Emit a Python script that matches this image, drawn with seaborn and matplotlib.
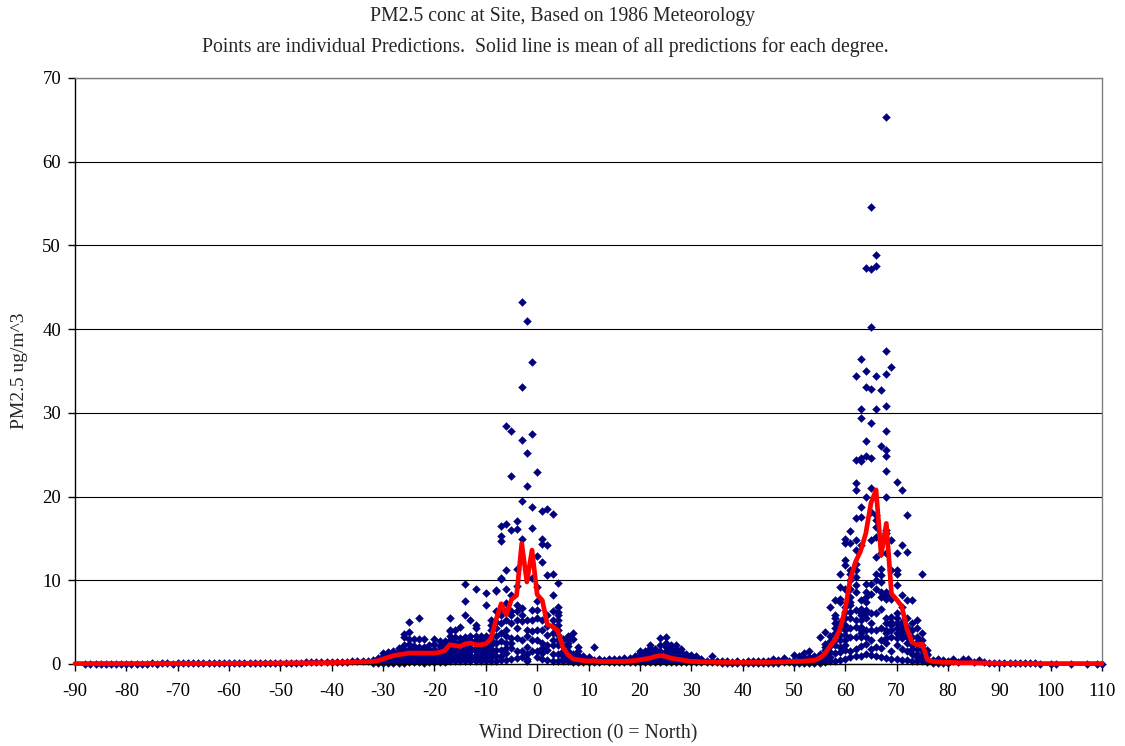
import matplotlib
matplotlib.use("Agg")
import matplotlib.pyplot as plt
import pandas as pd
import seaborn as sns

# Calm westerly directions, one prediction per degree starting at -88
west_calm_start = -88
west_calm = [
    0.04, 0.05, 0.05, 0.04, 0.05, 0.05, 0.04, 0.05,
    0.05, 0.04, 0.05, 0.05, 0.05, 0.06, 0.05, 0.06, 0.06, 0.05,
    0.06, 0.06, 0.07, 0.06, 0.07, 0.07, 0.08, 0.07, 0.08, 0.08,
    0.09, 0.08, 0.09, 0.10, 0.09, 0.10, 0.11, 0.12, 0.12, 0.13,
    0.14, 0.15, 0.15, 0.16, 0.17, 0.18, 0.18, 0.19, 0.20, 0.21,
    0.22, 0.24, 0.26, 0.28, 0.30, 0.33, 0.36, 0.40,
]

# Predictions around the north lobe, degrees -32 .. 12
west_lobe_start = -32
west_lobe = [
    [0.1, 0.3, 0.5],
    [0.1, 0.3, 0.5, 0.7],
    [0.1, 0.2, 0.4, 0.6, 0.8, 1.0, 1.3],
    [0.1, 0.3, 0.5, 0.7, 0.9, 1.2, 1.4],
    [0.1, 0.2, 0.4, 0.6, 0.8, 1.0, 1.3, 1.5],
    [0.1, 0.3, 0.5, 0.7, 0.9, 1.2, 1.6, 1.9],
    [0.1, 0.3, 0.5, 0.8, 1.0, 1.3, 1.7, 2.3, 3.2, 3.6],
    [0.2, 0.4, 0.6, 0.8, 1.1, 1.4, 1.8, 2.4, 3.0, 3.8, 5.0],
    [0.2, 0.4, 0.6, 0.9, 1.1, 1.4, 1.7, 2.2, 3.0],
    [0.2, 0.4, 0.7, 1.0, 1.3, 1.6, 2.0, 3.0, 5.5],
    [0.1, 0.3, 0.6, 0.9, 1.2, 1.5, 2.0, 3.0],
    [0.2, 0.4, 0.7, 1.0, 1.3, 1.7, 2.3],
    [0.2, 0.5, 0.8, 1.1, 1.4, 1.8, 2.4, 3.0],
    [0.2, 0.5, 0.8, 1.1, 1.4, 1.7, 2.2, 2.8],
    [0.2, 0.5, 0.8, 1.2, 1.5, 1.9, 2.4, 2.8],
    [0.3, 0.6, 1.0, 1.4, 1.8, 2.3, 2.9, 3.4, 3.9, 4.1, 5.5],
    [0.3, 0.6, 1.0, 1.4, 1.8, 2.2, 2.6, 3.2, 4.1],
    [0.3, 0.6, 0.9, 1.3, 1.7, 2.1, 2.6, 3.1, 4.4],
    [0.3, 0.6, 1.0, 1.4, 1.9, 2.5, 2.9, 3.2, 5.9, 7.5, 9.6],
    [0.3, 0.7, 1.1, 1.5, 1.9, 2.4, 2.9, 3.3, 5.3],
    [0.3, 0.7, 1.1, 1.5, 1.9, 2.5, 2.9, 3.3, 4.3, 4.7, 8.9],
    [0.3, 0.7, 1.1, 1.5, 1.9, 2.3, 2.5, 2.9, 3.4],
    [0.4, 0.8, 1.2, 1.6, 2.0, 2.4, 2.9, 3.3, 7.0, 8.5],
    [0.4, 0.8, 1.3, 1.8, 2.3, 2.9, 3.4, 4.1, 4.7, 5.3],
    [0.4, 0.9, 1.7, 2.5, 3.3, 4.3, 5.0, 6.3, 8.7, 8.8],
    [0.5, 1.0, 1.7, 2.7, 3.7, 4.9, 5.9, 6.7, 10.2, 10.3, 14.7, 15.3, 16.5],
    [0.5, 1.3, 1.9, 2.5, 3.3, 4.1, 5.3, 6.3, 7.3, 9.0, 11.2, 16.7, 28.4],
    [0.6, 1.9, 2.5, 3.1, 4.9, 5.9, 6.3, 8.2, 16.0, 22.4, 27.8],
    [0.7, 1.5, 3.1, 4.3, 5.3, 6.3, 7.1, 9.3, 11.4, 16.1, 17.1],
    [0.8, 1.5, 2.9, 5.1, 5.9, 6.7, 14.9, 19.5, 26.7, 33.1, 43.2],
    [0.3, 0.6, 1.2, 2.0, 3.3, 4.1, 5.3, 21.3, 25.2, 41.0],
    [1.5, 2.9, 3.9, 5.3, 6.5, 10.3, 16.2, 18.7, 27.5, 36.1],
    [0.8, 1.5, 2.9, 4.1, 5.5, 6.5, 7.5, 9.2, 12.9, 22.9],
    [0.6, 1.3, 1.9, 2.5, 4.1, 5.3, 12.2, 14.3, 14.9, 18.3],
    [0.5, 1.7, 2.3, 3.5, 4.5, 5.9, 10.6, 14.2, 18.5],
    [0.4, 1.2, 2.3, 2.9, 3.7, 4.5, 5.3, 6.3, 8.2, 10.7, 17.9],
    [0.4, 1.2, 2.3, 2.9, 3.5, 4.1, 4.7, 5.3, 5.9, 6.2, 6.8, 9.7],
    [0.3, 0.6, 1.0, 1.5, 2.1, 3.0],
    [0.3, 0.6, 1.0, 1.6, 2.1, 2.5, 2.9, 3.3],
    [0.2, 0.5, 0.8, 1.2, 3.0, 3.7],
    [0.2, 0.4, 0.6, 1.1, 1.5, 2.0],
    [0.2, 0.3, 0.6, 0.9],
    [0.2, 0.3, 0.5, 0.8],
    [0.2, 0.3, 0.5, 2.0],
    [0.2, 0.3, 0.6],
]

# Predictions between the two lobes, degrees 13 .. 49
mid_lobe_start = 13
mid_lobe = [
    [0.3, 0.5],
    [0.2, 0.4, 0.6],
    [0.2, 0.4, 0.6],
    [0.2, 0.4, 0.6],
    [0.2, 0.4, 0.7],
    [0.2, 0.4, 0.7],
    [0.2, 0.4, 0.6, 0.9],
    [0.2, 0.4, 0.7, 1.0, 1.3, 1.6],
    [0.2, 0.4, 0.7, 1.0, 1.5],
    [0.2, 0.4, 0.7, 1.0, 1.3, 1.9, 2.3],
    [0.2, 0.4, 0.7, 1.0, 1.4, 1.8],
    [0.2, 0.5, 0.8, 1.2, 1.6, 2.3, 3.1],
    [0.2, 0.5, 0.8, 1.1, 1.5, 2.0, 2.5, 3.2],
    [0.2, 0.4, 0.7, 1.0, 1.4, 1.8, 2.3],
    [0.2, 0.4, 0.7, 1.0, 1.4, 1.8, 2.3],
    [0.2, 0.4, 0.7, 1.0, 1.4, 1.8],
    [0.2, 0.4, 0.7, 1.0, 1.2],
    [0.2, 0.4, 0.7, 1.1],
    [0.2, 0.4, 0.6, 0.9],
    [0.2, 0.4, 0.6],
    [0.2, 0.4],
    [0.2, 0.4, 0.9],
    [0.2, 0.4],
    [0.15, 0.3],
    [0.15, 0.3],
    [0.15, 0.25],
    [0.15, 0.3],
    [0.15, 0.25],
    [0.15, 0.3],
    [0.15, 0.3],
    [0.15, 0.3],
    [0.15, 0.35],
    [0.15, 0.3],
    [0.15, 0.35, 0.6],
    [0.15, 0.3, 0.5],
    [0.2, 0.4, 0.7],
    [0.2, 0.4],
]

# Predictions around the east-north-east lobe, degrees 50 .. 80
east_lobe_start = 50
east_lobe = [
    [0.1, 0.3, 0.5, 1.1],
    [0.1, 0.3, 0.5, 0.9],
    [0.1, 0.2, 0.4, 0.7, 1.3],
    [0.1, 0.3, 0.5, 0.8, 1.6],
    [0.1, 0.2, 0.4, 0.7, 1.0],
    [0.1, 0.3, 0.45, 0.8, 1.2, 3.2],
    [0.2, 0.5, 1.05, 1.65, 2.0, 2.4, 3.8],
    [0.3, 0.8, 1.4, 2.2, 2.7, 3.3, 6.8],
    [0.4, 1.3, 2.25, 2.85, 3.65, 4.25, 4.85, 5.45, 5.85, 7.6],
    [0.5, 1.45, 2.05, 2.85, 3.45, 4.25, 4.65, 5.05, 7.4, 7.8, 9.2, 10.7],
    [0.6, 1.65, 2.25, 2.85, 3.45, 4.05, 4.65, 5.45, 6.25, 6.85, 9.0, 11.8, 12.4, 14.4, 14.9],
    [0.8, 1.6, 3.25, 4.25, 5.45, 6.25, 7.05, 7.4, 8.0, 9.0, 10.0, 10.8, 11.2, 14.4, 15.9],
    [0.9, 1.8, 3.25, 4.45, 5.25, 6.45, 8.6, 9.4, 10.4, 11.2, 12.0, 13.6, 14.8, 17.4, 20.8, 21.6, 24.4, 34.4],
    [1.0, 2.2, 3.25, 3.65, 4.05, 4.45, 5.25, 5.85, 6.05, 6.6, 7.6, 14.2, 17.6, 18.8, 24.2, 24.6, 29.4, 30.5, 36.4],
    [1.2, 2.4, 3.25, 4.05, 5.45, 6.05, 6.45, 7.4, 8.0, 8.6, 9.6, 20.0, 24.8, 26.6, 33.1, 35.0, 47.3],
    [1.1, 1.85, 2.85, 4.05, 4.85, 6.05, 8.4, 9.6, 14.8, 18.2, 21.0, 24.6, 28.8, 32.9, 40.3, 47.2, 54.6],
    [0.9, 2.0, 4.05, 6.05, 9.0, 10.0, 10.8, 12.8, 15.2, 16.4, 17.2, 17.8, 30.5, 34.4, 47.6, 48.9],
    [0.8, 1.9, 2.9, 4.25, 6.6, 8.0, 8.6, 9.8, 10.6, 11.4, 13.2, 14.8, 26.0, 32.7],
    [0.7, 2.45, 3.05, 3.65, 4.05, 4.85, 5.45, 7.8, 8.2, 8.6, 13.2, 15.6, 16.0, 20.0, 23.1, 24.8, 25.6, 27.8, 30.8, 34.6, 37.4, 65.3],
    [0.6, 1.6, 3.25, 4.05, 4.65, 5.05, 5.65, 7.8, 8.2, 11.2, 14.8, 35.5],
    [0.6, 2.25, 3.05, 3.65, 4.25, 4.85, 5.45, 6.05, 9.4, 10.8, 11.2, 13.2, 21.8],
    [0.5, 1.8, 3.05, 3.45, 4.05, 4.65, 5.05, 6.85, 8.2, 14.2, 20.8],
    [0.5, 1.5, 2.45, 3.25, 3.85, 4.45, 5.45, 7.6, 13.4, 17.8],
    [0.4, 1.2, 1.85, 2.25, 3.25, 4.05, 4.85, 7.6],
    [0.3, 0.8, 1.25, 1.85, 2.65, 3.25, 4.25, 5.25],
    [0.3, 0.65, 1.05, 1.65, 2.25, 2.85, 3.65, 10.8],
    [0.2, 0.65, 1.05, 1.65, 1.2],
    [0.1, 0.3, 0.5],
    [0.1, 0.3, 0.6],
    [0.1, 0.2, 0.45],
    [0.1, 0.3],
]

# Sparse predictions on the east side, degrees 81 .. 110
east_tail_dirs = [81, 81, 82, 83, 84, 85, 86, 87, 88, 89, 90, 91, 92, 93,
                  94, 95, 96, 97, 98, 100, 101, 104, 107, 109, 110]
east_tail_conc = [0.6, 0.3, 0.25, 0.56, 0.56, 0.25, 0.45, 0.25, 0.15, 0.12,
                  0.1, 0.1, 0.08, 0.08, 0.07, 0.07, 0.06, 0.06, 0.05, 0.05,
                  0.05, 0.05, 0.05, 0.05, 0.05]

# Mean of all predictions for each degree, -90 .. 110
mean_start = -90
mean_conc = [
    0.05, 0.05, 0.05, 0.05, 0.05, 0.05, 0.05, 0.05, 0.05, 0.05,
    0.05, 0.05, 0.05, 0.05, 0.05, 0.05, 0.06, 0.06, 0.06, 0.06,
    0.06, 0.06, 0.06, 0.06, 0.07, 0.07, 0.07, 0.07, 0.07, 0.08,
    0.08, 0.08, 0.08, 0.09, 0.09, 0.09, 0.10, 0.10, 0.10, 0.11,
    0.11, 0.12, 0.12, 0.13, 0.13, 0.14, 0.14, 0.15, 0.15, 0.16,
    0.17, 0.18, 0.19, 0.20, 0.22, 0.24, 0.26, 0.28, 0.30, 0.40,
    0.60, 0.80, 1.00, 1.10, 1.20, 1.30, 1.30, 1.30, 1.30, 1.30,
    1.30, 1.40, 1.60, 2.30, 2.20, 2.10, 2.40, 2.50, 2.30, 2.30,
    2.40, 3.00, 5.30, 7.20, 5.90, 7.70, 8.20, 14.40, 9.80, 13.60,
    8.30, 7.60, 4.70, 4.50, 4.00, 2.00, 1.10, 0.60, 0.50, 0.40,
    0.35, 0.40, 0.30, 0.30, 0.30, 0.30, 0.30, 0.30, 0.35, 0.40,
    0.50, 0.60, 0.70, 0.90, 1.00, 0.90, 0.70, 0.60, 0.50, 0.40,
    0.30, 0.30, 0.25, 0.25, 0.25, 0.20, 0.20, 0.20, 0.20, 0.20,
    0.20, 0.20, 0.20, 0.20, 0.20, 0.20, 0.25, 0.25, 0.25, 0.30,
    0.30, 0.30, 0.35, 0.40, 0.45, 0.70, 1.20, 2.10, 2.90, 4.20,
    6.60, 10.20, 12.20, 13.50, 15.60, 19.20, 20.80, 13.00, 16.80, 8.40,
    7.70, 6.90, 4.20, 2.60, 2.30, 2.40, 0.50, 0.30, 0.25, 0.20,
    0.20, 0.20, 0.15, 0.15, 0.15, 0.15, 0.12, 0.12, 0.10, 0.10,
    0.08, 0.08, 0.07, 0.07, 0.06, 0.06, 0.05, 0.05, 0.05, 0.05,
    0.05, 0.05, 0.05, 0.05, 0.05, 0.05, 0.05, 0.05, 0.05, 0.05, 0.05,
]

# Assemble the long-form table of individual predictions
rows = []
for i, v in enumerate(west_calm):
    rows.append((west_calm_start + i, v))
for start, lobe in ((west_lobe_start, west_lobe),
                    (mid_lobe_start, mid_lobe),
                    (east_lobe_start, east_lobe)):
    for i, vals in enumerate(lobe):
        for v in vals:
            rows.append((start + i, v))
for d, v in zip(east_tail_dirs, east_tail_conc):
    rows.append((d, v))
points = pd.DataFrame(rows, columns=["direction", "conc"])

means = pd.DataFrame({
    "direction": [mean_start + i for i in range(len(mean_conc))],
    "conc": mean_conc,
})

sns.set_style("white")
plt.rcParams["font.family"] = ["Liberation Serif", "DejaVu Serif"]
plt.rcParams["axes.unicode_minus"] = False

W, H = 1125, 746
fig = plt.figure(figsize=(W / 100, H / 100), dpi=100)
ax = fig.add_axes([75 / W, (H - 664) / H, 1027 / W, 586 / H])

sns.scatterplot(data=points, x="direction", y="conc", marker="D", s=16,
                color="#000080", edgecolor="#000080", linewidth=0.3,
                ax=ax, legend=False, zorder=2, clip_on=False)
sns.lineplot(data=means, x="direction", y="conc", color="#FF0000",
             linewidth=3.4, ax=ax, zorder=3, clip_on=False)

ax.set_xlim(-90, 110)
ax.set_ylim(0, 70)
ax.set_xticks(range(-90, 111, 10))
ax.set_yticks(range(0, 71, 10))
ax.yaxis.grid(True, color="black", linewidth=0.8)
ax.xaxis.grid(False)
ax.set_axisbelow(True)

for side in ("left", "bottom"):
    ax.spines[side].set_color("black")
    ax.spines[side].set_linewidth(1.0)
for side in ("top", "right"):
    ax.spines[side].set_color("#808080")
    ax.spines[side].set_linewidth(1.0)

ax.tick_params(axis="both", direction="out", length=5, width=1,
               color="black", labelsize=13.5, labelcolor="black",
               bottom=True, left=True)
ax.tick_params(axis="x", pad=9)
ax.tick_params(axis="y", pad=5)

ax.set_xlabel("Wind Direction (0 = North)", fontsize=14.2, labelpad=17)
ax.set_ylabel("PM2.5 ug/m^3", fontsize=14, labelpad=10)

fig.text(563 / W, 1 - 16 / H, "PM2.5 conc at Site, Based on 1986 Meteorology",
         ha="center", va="center", fontsize=14.2)
fig.text(545 / W, 1 - 47 / H,
         "Points are individual Predictions.  Solid line is mean of all predictions for each degree.",
         ha="center", va="center", fontsize=14.2)

fig.savefig("out.png", dpi=100)
